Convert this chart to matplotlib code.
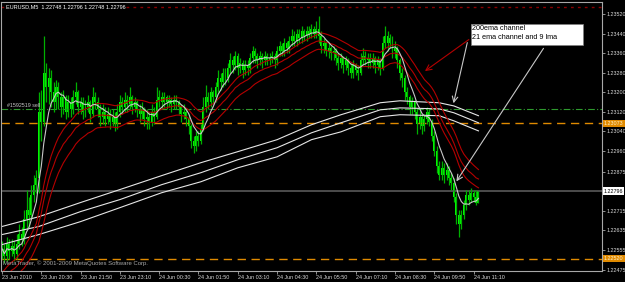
import matplotlib
matplotlib.use("Agg")
import matplotlib.pyplot as plt
import matplotlib.transforms as mtransforms
from matplotlib.patches import Rectangle

plt.rcParams['font.family'] = ['Liberation Sans', 'DejaVu Sans']

# EURUSD M5 bars (close / high / low)
closes = [
    1.2256, 1.2253, 1.2258, 1.2255, 1.2257, 1.2254, 1.2258, 1.2262, 1.2260, 1.2268,
    1.2272, 1.2270, 1.2278, 1.2282, 1.2285, 1.2312, 1.2308, 1.2328, 1.2322, 1.2326,
    1.2320, 1.2316, 1.2322, 1.2318, 1.2314, 1.2318, 1.2312, 1.2316, 1.2313, 1.2318,
    1.2320, 1.2314, 1.2316, 1.2312, 1.2314, 1.2316, 1.2311, 1.2318, 1.2316, 1.2313,
    1.2310, 1.2312, 1.2309, 1.2311, 1.2308, 1.2310, 1.2307, 1.2312, 1.2316, 1.2314,
    1.2317, 1.2315, 1.2318, 1.2314, 1.2316, 1.2313, 1.2311, 1.2313, 1.2309, 1.2310,
    1.2308, 1.2312, 1.2310, 1.2317, 1.2318, 1.2316, 1.2318, 1.2316, 1.2317, 1.2315,
    1.2317, 1.2316, 1.2314, 1.2311, 1.2312, 1.2309, 1.2306, 1.2300, 1.2298, 1.2302,
    1.2300, 1.2305, 1.2314, 1.2318, 1.2316, 1.2320, 1.2318, 1.2322, 1.2326, 1.2324,
    1.2328, 1.2326, 1.2330, 1.2333, 1.2331, 1.2335, 1.2330, 1.2332, 1.2329, 1.2331,
    1.2330, 1.2334, 1.2337, 1.2335, 1.2333, 1.2335, 1.2333, 1.2335, 1.2333, 1.2334,
    1.2335, 1.2333, 1.2337, 1.2339, 1.2337, 1.2340, 1.2338, 1.2341, 1.2343, 1.2341,
    1.2344, 1.2342, 1.2345, 1.2343, 1.2345, 1.2344, 1.2346, 1.2344, 1.2346, 1.2343,
    1.2339, 1.2340, 1.2337, 1.2338, 1.2336, 1.2337, 1.2334, 1.2332, 1.2334, 1.2331,
    1.2333, 1.2330, 1.2328, 1.2331, 1.2329, 1.2328, 1.2333, 1.2335, 1.2333, 1.2334,
    1.2332, 1.2334, 1.2331, 1.2333, 1.2330, 1.2340, 1.2343, 1.2340, 1.2342, 1.2337,
    1.2338, 1.2333, 1.2328, 1.2326, 1.2320, 1.2318, 1.2314, 1.2316, 1.2312, 1.2307,
    1.2310, 1.2306, 1.2309, 1.2312, 1.2308, 1.2302, 1.2296, 1.2290, 1.2286, 1.2289,
    1.2286, 1.2288, 1.2285, 1.2283, 1.2277, 1.2270, 1.2266, 1.2270, 1.2274, 1.2278,
    1.2276, 1.2279, 1.2277, 1.22748, 1.22796]
highs = [
    1.2259, 1.2258, 1.2261, 1.2260, 1.2260, 1.2259, 1.2262, 1.2266, 1.2265, 1.2272,
    1.2280, 1.2277, 1.2282, 1.2286, 1.2288, 1.2320, 1.2321, 1.2343, 1.2332, 1.2330,
    1.2329, 1.2324, 1.2325, 1.2324, 1.2320, 1.2321, 1.2319, 1.2319, 1.2318, 1.2321,
    1.2324, 1.2321, 1.2318, 1.2318, 1.2317, 1.2319, 1.2317, 1.2322, 1.2320, 1.2318,
    1.2315, 1.2315, 1.2314, 1.2314, 1.2313, 1.2313, 1.2312, 1.2315, 1.2319, 1.2318,
    1.2320, 1.2319, 1.2322, 1.2319, 1.2318, 1.2317, 1.2315, 1.2316, 1.2314, 1.2313,
    1.2312, 1.2315, 1.2314, 1.2322, 1.2321, 1.2320, 1.2320, 1.2319, 1.2319, 1.2318,
    1.2319, 1.2319, 1.2317, 1.2315, 1.2315, 1.2313, 1.2311, 1.2307, 1.2302, 1.2304,
    1.2304, 1.2307, 1.2318, 1.2323, 1.2320, 1.2322, 1.2321, 1.2324, 1.2329, 1.2328,
    1.2330, 1.2330, 1.2332, 1.2336, 1.2335, 1.2337, 1.2336, 1.2334, 1.2333, 1.2333,
    1.2333, 1.2336, 1.2339, 1.2338, 1.2336, 1.2337, 1.2336, 1.2337, 1.2336, 1.2336,
    1.2337, 1.2336, 1.2339, 1.2341, 1.2340, 1.2342, 1.2341, 1.2343, 1.2346, 1.2345,
    1.2346, 1.2346, 1.2347, 1.2346, 1.2347, 1.2347, 1.2348, 1.2347, 1.2349, 1.2351,
    1.2345, 1.2342, 1.2341, 1.2340, 1.2339, 1.2339, 1.2338, 1.2336, 1.2336, 1.2335,
    1.2335, 1.2334, 1.2332, 1.2333, 1.2332, 1.2331, 1.2336, 1.2338, 1.2337, 1.2336,
    1.2336, 1.2336, 1.2335, 1.2335, 1.2334, 1.2343, 1.2347, 1.2345, 1.2344, 1.2343,
    1.2341, 1.2339, 1.2334, 1.2330, 1.2327, 1.2322, 1.2319, 1.2318, 1.2317, 1.2313,
    1.2313, 1.2311, 1.2311, 1.2314, 1.2313, 1.2309, 1.2304, 1.2298, 1.2292, 1.2292,
    1.2291, 1.2291, 1.2290, 1.2287, 1.2285, 1.2279, 1.2272, 1.2272, 1.2276, 1.2280,
    1.2280, 1.2281, 1.2280, 1.2280, 1.22796]
lows = [
    1.2252, 1.2250, 1.2251, 1.2252, 1.2253, 1.2251, 1.2252, 1.2256, 1.2257, 1.2258,
    1.2264, 1.2265, 1.2268, 1.2275, 1.2279, 1.2279, 1.2300, 1.2306, 1.2316, 1.2315,
    1.2314, 1.2312, 1.2313, 1.2313, 1.2310, 1.2311, 1.2309, 1.2310, 1.2310, 1.2311,
    1.2315, 1.2311, 1.2311, 1.2309, 1.2310, 1.2312, 1.2308, 1.2310, 1.2313, 1.2310,
    1.2306, 1.2307, 1.2306, 1.2307, 1.2305, 1.2306, 1.2304, 1.2305, 1.2310, 1.2311,
    1.2312, 1.2312, 1.2313, 1.2311, 1.2312, 1.2310, 1.2308, 1.2309, 1.2306, 1.2305,
    1.2305, 1.2306, 1.2307, 1.2309, 1.2314, 1.2313, 1.2314, 1.2313, 1.2314, 1.2312,
    1.2313, 1.2313, 1.2311, 1.2308, 1.2309, 1.2306, 1.2303, 1.2297, 1.2295, 1.2296,
    1.2298, 1.2299, 1.2304, 1.2312, 1.2313, 1.2314, 1.2315, 1.2316, 1.2320, 1.2321,
    1.2322, 1.2323, 1.2324, 1.2328, 1.2328, 1.2329, 1.2327, 1.2328, 1.2326, 1.2327,
    1.2327, 1.2328, 1.2332, 1.2332, 1.2330, 1.2331, 1.2330, 1.2331, 1.2331, 1.2331,
    1.2332, 1.2330, 1.2331, 1.2335, 1.2335, 1.2335, 1.2336, 1.2336, 1.2339, 1.2339,
    1.2339, 1.2340, 1.2340, 1.2341, 1.2341, 1.2342, 1.2342, 1.2342, 1.2342, 1.2340,
    1.2336, 1.2336, 1.2335, 1.2334, 1.2333, 1.2333, 1.2331, 1.2329, 1.2330, 1.2328,
    1.2329, 1.2327, 1.2326, 1.2326, 1.2327, 1.2325, 1.2327, 1.2331, 1.2331, 1.2330,
    1.2330, 1.2330, 1.2328, 1.2329, 1.2327, 1.2329, 1.2338, 1.2337, 1.2338, 1.2334,
    1.2334, 1.2330, 1.2325, 1.2322, 1.2317, 1.2315, 1.2311, 1.2311, 1.2309, 1.2303,
    1.2305, 1.2303, 1.2304, 1.2307, 1.2306, 1.2300, 1.2294, 1.2287, 1.2284, 1.2284,
    1.2283, 1.2284, 1.2282, 1.2280, 1.2275, 1.2266, 1.2261, 1.2264, 1.2268, 1.2272,
    1.2274, 1.2275, 1.2275, 1.2274, 1.22748]
first_open = 1.2255

# 21 ema values just before the first bar (lines start below the window)
ema21_seed_high = 1.2245
ema21_seed_close = 1.2242
ema21_seed_low = 1.2239

# 200 ema channel read at sample bars
ema200_bars = [0, 15, 32, 48, 65, 81, 96, 112, 126, 138, 154, 162, 178, 184, 194]
ema200_high = [1.22651, 1.22691, 1.22749, 1.22802, 1.22859, 1.22912, 1.22957, 1.23006,
               1.23067, 1.23108, 1.23157, 1.23165, 1.23157, 1.23144, 1.23104]
ema200_mid = [1.22618, 1.22651, 1.22712, 1.22761, 1.22822, 1.22871, 1.22924, 1.22973,
              1.23034, 1.23075, 1.23128, 1.23136, 1.23132, 1.23116, 1.23075]
ema200_low = [1.22577, 1.22618, 1.22671, 1.22728, 1.22789, 1.22834, 1.22891, 1.22936,
              1.23006, 1.23038, 1.23100, 1.23108, 1.23104, 1.23083, 1.23042]

# horizontal levels
sell_level = 1.23132
orange_levels = [1.23073, 1.22520]
bid_level = 1.22796
top_level = 1.23549

xtick_labels = ["23 Jun 2010", "23 Jun 20:30", "23 Jun 21:50", "23 Jun 23:10",
                "24 Jun 00:30", "24 Jun 01:50", "24 Jun 03:10", "24 Jun 04:30",
                "24 Jun 05:50", "24 Jun 07:10", "24 Jun 08:30", "24 Jun 09:50",
                "24 Jun 11:10"]
ytick_values = [1.23520, 1.23440, 1.23360, 1.23280, 1.23200, 1.23120, 1.23040,
                1.22960, 1.22875, 1.22715, 1.22635, 1.22555, 1.22475]


def ema(values, period, seed):
    a = 2.0 / (period + 1)
    out = []
    e = seed
    for v in values:
        e = e + a * (v - e)
        out.append(e)
    return out


def lwma(values, period):
    out = []
    for i in range(len(values)):
        win = values[max(0, i - period + 1):i + 1]
        w = list(range(1, len(win) + 1))
        out.append(sum(a * b for a, b in zip(win, w)) / sum(w))
    return out


n = len(closes)
idx = list(range(n))
opens = [first_open] + closes[:-1]

fig = plt.figure(figsize=(6.25, 2.82), dpi=100, facecolor='black')
ax = fig.add_axes([1 / 625, 1 - 271 / 282, 601 / 625, 269 / 282])
ax.set_facecolor('black')

# levels
ax.axhline(top_level, color='#8B0000', lw=1, ls=(0, (2, 3)))
ax.axhline(sell_level, color='#2E9A2E', lw=0.8, ls=(0, (6, 2, 1, 2)))
for lv in orange_levels:
    ax.axhline(lv, color='#E08A00', lw=1, ls=(0, (6, 4)))
ax.axhline(bid_level, color='#5A5A5A', lw=1.2)

# bars
ax.vlines(idx, lows, highs, color='#00B000', lw=0.9)
bottoms = [min(o, c) for o, c in zip(opens, closes)]
heights = [max(abs(c - o), 0.00002) for o, c in zip(opens, closes)]
ax.bar(idx, heights, bottom=bottoms, width=0.8, color='#00FF00', edgecolor='none')

# 200 ema channel
for line in (ema200_high, ema200_mid, ema200_low):
    ax.plot(ema200_bars, line, color='#E6E6E6', lw=0.8)

# 21 ema channel
ax.plot(idx, ema(highs, 21, ema21_seed_high), color='#B40000', lw=0.8)
ax.plot(idx, ema(closes, 21, ema21_seed_close), color='#B40000', lw=0.8)
ax.plot(idx, ema(lows, 21, ema21_seed_low), color='#B40000', lw=0.8)

# 9 lwma
ax.plot(idx, lwma(closes, 9), color='#C8C8C8', lw=0.8)

ax.set_xlim(-0.4, 244.3)
ax.set_ylim(1.22469, 1.23569)

for s in ax.spines.values():
    s.set_color('#A8A8A8')
    s.set_linewidth(0.8)

ax.yaxis.tick_right()
ax.set_yticks(ytick_values)
ax.set_yticklabels(['%.5f' % v for v in ytick_values])
ax.set_xticks(list(range(0, 16 * len(xtick_labels), 16)))
ax.set_xticklabels(xtick_labels)
for lbl in ax.get_xticklabels():
    lbl.set_ha('left')
ax.tick_params(axis='both', colors='#A8A8A8', length=2, width=0.6,
               labelsize=3.9, labelcolor='#D8D8D8', pad=1.0)

# price boxes on the right scale
tr = mtransforms.blended_transform_factory(ax.transAxes, ax.transData)
ax.text(1.003, bid_level, '%.5f' % bid_level, transform=tr, fontsize=3.9,
        color='black', va='center', ha='left',
        bbox=dict(facecolor='white', edgecolor='none', pad=0.8))
for lv in orange_levels:
    ax.text(1.003, lv, '%.5f' % lv, transform=tr, fontsize=3.9,
            color='#FFF0C8', va='center', ha='left',
            bbox=dict(facecolor='#E08A00', edgecolor='none', pad=0.8))

# texts
ax.text(0.008, 0.992, 'EURUSD,M5  1.22748 1.22796 1.22748 1.22796',
        transform=ax.transAxes, color='white', fontsize=4.0, va='top', ha='left',
        bbox=dict(facecolor='black', edgecolor='none', pad=0.5))
ax.text(2, sell_level + 0.00002, '#1592519 sell', color='#C8C8C8', fontsize=3.8,
        va='bottom', ha='left')
ax.text(0.004, 0.018, 'MetaTrader, \u00a9 2001-2009 MetaQuotes Software Corp.',
        transform=ax.transAxes, color='#A8A8A8', fontsize=4.3, va='bottom', ha='left')

# annotation box and pointers
ax.add_patch(Rectangle((191.0, 1.23393), 45.6, 0.00086, facecolor='white',
                       edgecolor='#808080', lw=0.5, zorder=5))
ax.text(191.3, 1.23476, '200ema channel', color='black', fontsize=5.2,
        va='top', ha='left', zorder=6)
ax.text(191.3, 1.23437, '21 ema channel and 9 lma', color='black', fontsize=5.2,
        va='top', ha='left', zorder=6)
ax.annotate('', xy=(171.3, 1.23280), xytext=(191.0, 1.23422),
            arrowprops=dict(arrowstyle='->', color='#B40000', lw=0.8))
ax.annotate('', xy=(183.6, 1.23144), xytext=(189.7, 1.23414),
            arrowprops=dict(arrowstyle='->', color='#C8C8C8', lw=0.8))
ax.annotate('', xy=(184.4, 1.22826), xytext=(221.1, 1.23389),
            arrowprops=dict(arrowstyle='->', color='#C8C8C8', lw=0.8))

fig.savefig('out.png', dpi=100, facecolor='black')
